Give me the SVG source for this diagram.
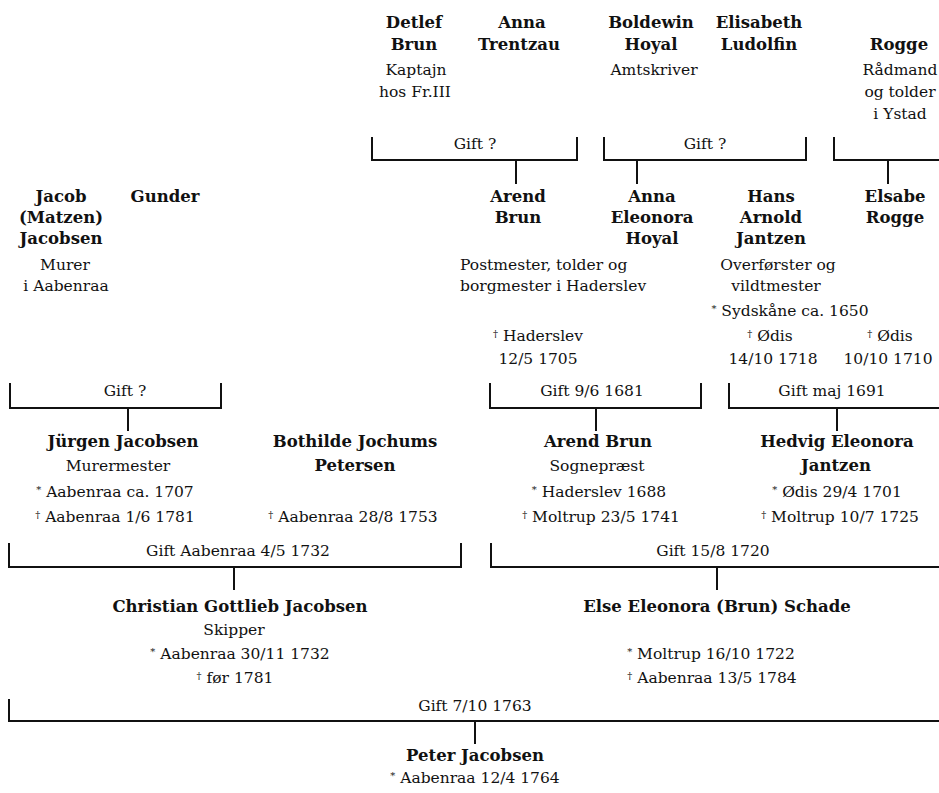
<svg xmlns="http://www.w3.org/2000/svg" width="939" height="793" viewBox="0 0 939 793">
<style>
text{font-family:"DejaVu Serif","Liberation Serif",serif;font-size:15.5px;fill:#111;text-anchor:middle}
.n{font-weight:bold;font-size:16.5px}
.l{text-anchor:start}
.s{font-size:10px;baseline-shift:4px}
.c path{fill:none;stroke:#111;stroke-width:2}
</style>
<rect width="939" height="793" fill="#fff"/>
<g id="connectors" class="c">
<path d="M372,137V160H577V137M516,160V184"/>
<path d="M604,137V160H806V137M637,160V184"/>
<path d="M834,137V160H940M888,160V184"/>
<path d="M10,383V408H221V383M128,408V431"/>
<path d="M490,383V408H701V383M596,408V431"/>
<path d="M729,383V408H940M837,408V431"/>
<path d="M9,543V567H461V543M234,567V590"/>
<path d="M491,543V567H940M717,567V590"/>
<path d="M9,699V721H940M475,721V744"/>
<text x="475" y="149">Gift ?</text>
<text x="705" y="149">Gift ?</text>
<text x="125" y="396">Gift ?</text>
<text x="592" y="396">Gift 9/6 1681</text>
<text x="832" y="396">Gift maj 1691</text>
<text x="238" y="556">Gift Aabenraa 4/5 1732</text>
<text x="713" y="556">Gift 15/8 1720</text>
<text x="475" y="711">Gift 7/10 1763</text>
</g>
<g id="detlef-brun">
<text class="n" x="414" y="28">Detlef</text>
<text class="n" x="414" y="50">Brun</text>
<text x="416" y="75">Kaptajn</text>
<text x="415" y="97">hos Fr.III</text>
</g>
<g id="anna-trentzau">
<text class="n" x="522" y="28">Anna</text>
<text class="n" x="519" y="50">Trentzau</text>
</g>
<g id="boldewin-hoyal">
<text class="n" x="651" y="28">Boldewin</text>
<text class="n" x="651" y="50">Hoyal</text>
<text x="654" y="75">Amtskriver</text>
</g>
<g id="elisabeth-ludolfin">
<text class="n" x="759" y="28">Elisabeth</text>
<text class="n" x="759" y="50">Ludolfin</text>
</g>
<g id="rogge">
<text class="n" x="899" y="50">Rogge</text>
<text x="900" y="75">Rådmand</text>
<text x="900" y="97">og tolder</text>
<text x="900" y="119">i Ystad</text>
</g>
<g id="jacob-jacobsen">
<text class="n" x="61" y="202">Jacob</text>
<text class="n" x="61" y="223">(Matzen)</text>
<text class="n" x="61" y="244">Jacobsen</text>
<text x="65" y="270">Murer</text>
<text x="66" y="291">i Aabenraa</text>
</g>
<g id="gunder">
<text class="n" x="165" y="202">Gunder</text>
</g>
<g id="arend-brun-1">
<text class="n" x="518" y="202">Arend</text>
<text class="n" x="518" y="223">Brun</text>
<text class="l" x="460" y="270">Postmester, tolder og</text>
<text class="l" x="460" y="291">borgmester i Haderslev</text>
<text x="538" y="341"><tspan class="s">†</tspan> Haderslev</text>
<text x="538" y="364">12/5 1705</text>
</g>
<g id="anna-eleonora-hoyal">
<text class="n" x="652" y="202">Anna</text>
<text class="n" x="652" y="223">Eleonora</text>
<text class="n" x="652" y="244">Hoyal</text>
</g>
<g id="hans-arnold-jantzen">
<text class="n" x="771" y="202">Hans</text>
<text class="n" x="771" y="223">Arnold</text>
<text class="n" x="771" y="244">Jantzen</text>
<text x="778" y="270">Overførster og</text>
<text x="776" y="291">vildtmester</text>
<text x="790" y="316"><tspan class="s">*</tspan> Sydskåne ca. 1650</text>
<text x="770" y="341"><tspan class="s">†</tspan> Ødis</text>
<text x="773" y="364">14/10 1718</text>
</g>
<g id="elsabe-rogge">
<text class="n" x="895" y="202">Elsabe</text>
<text class="n" x="895" y="223">Rogge</text>
<text x="890" y="341"><tspan class="s">†</tspan> Ødis</text>
<text x="888" y="364">10/10 1710</text>
</g>
<g id="jurgen-jacobsen">
<text class="n" x="123" y="447">Jürgen Jacobsen</text>
<text x="118" y="471">Murermester</text>
<text x="115" y="497"><tspan class="s">*</tspan> Aabenraa ca. 1707</text>
<text x="115" y="522"><tspan class="s">†</tspan> Aabenraa 1/6 1781</text>
</g>
<g id="bothilde-petersen">
<text class="n" x="355" y="447">Bothilde Jochums</text>
<text class="n" x="355" y="471">Petersen</text>
<text x="353" y="522"><tspan class="s">†</tspan> Aabenraa 28/8 1753</text>
</g>
<g id="arend-brun-2">
<text class="n" x="598" y="447">Arend Brun</text>
<text x="597" y="471">Sognepræst</text>
<text x="599" y="497"><tspan class="s">*</tspan> Haderslev 1688</text>
<text x="601" y="522"><tspan class="s">†</tspan> Moltrup 23/5 1741</text>
</g>
<g id="hedvig-jantzen">
<text class="n" x="837" y="447">Hedvig Eleonora</text>
<text class="n" x="836" y="471">Jantzen</text>
<text x="837" y="497"><tspan class="s">*</tspan> Ødis 29/4 1701</text>
<text x="840" y="522"><tspan class="s">†</tspan> Moltrup 10/7 1725</text>
</g>
<g id="christian-jacobsen">
<text class="n" x="240" y="612">Christian Gottlieb Jacobsen</text>
<text x="234" y="635">Skipper</text>
<text x="240" y="659"><tspan class="s">*</tspan> Aabenraa 30/11 1732</text>
<text x="235" y="683"><tspan class="s">†</tspan> før 1781</text>
</g>
<g id="else-schade">
<text class="n" x="717" y="612">Else Eleonora (Brun) Schade</text>
<text x="711" y="659"><tspan class="s">*</tspan> Moltrup 16/10 1722</text>
<text x="712" y="683"><tspan class="s">†</tspan> Aabenraa 13/5 1784</text>
</g>
<g id="peter-jacobsen">
<text class="n" x="475" y="761">Peter Jacobsen</text>
<text x="475" y="783"><tspan class="s">*</tspan> Aabenraa 12/4 1764</text>
</g>
</svg>
